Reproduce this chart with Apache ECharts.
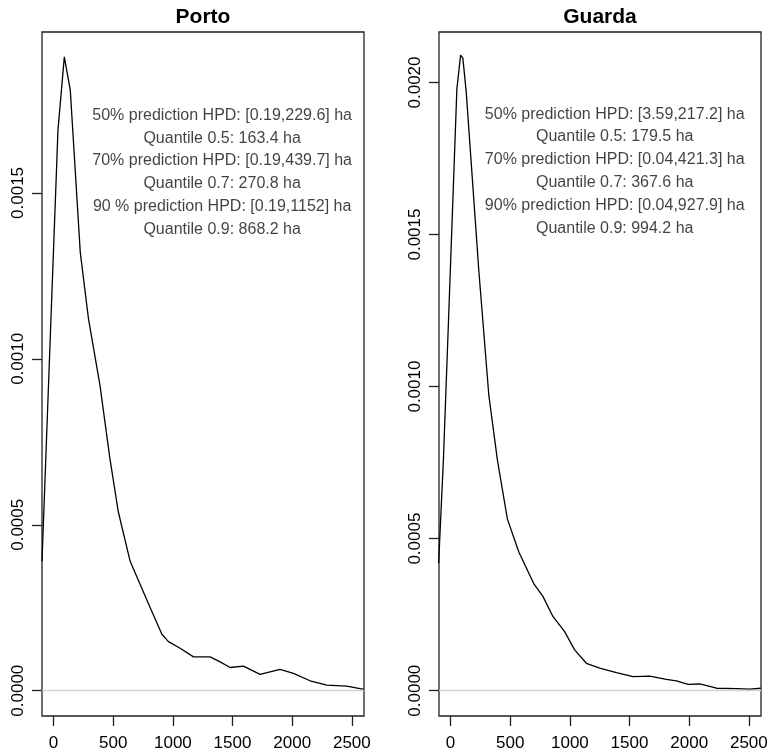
<!DOCTYPE html>
<html>
<head>
<meta charset="utf-8">
<script src="https://cdn.jsdelivr.net/npm/echarts@6/dist/echarts.min.js"></script>
<style>
html, body { margin: 0; padding: 0; background: #fff; }
#chart { width: 772px; height: 752px; }
</style>
</head>
<body>
<div id="chart"></div>
<script>
// density curves (burnt area in ha, density)
var portoX = [-97, -22, 37, 90, 140, 224, 293, 389, 472, 542, 642, 726, 810, 908, 963, 1061, 1173, 1312, 1396, 1480, 1591, 1731, 1898, 2011, 2150, 2290, 2457, 2602];
var portoY = [0.00039, 0.00112, 0.00169, 0.00191, 0.00181, 0.00132, 0.00112, 0.00092, 0.00070, 0.00054, 0.00039, 0.00032, 0.00025, 0.00017, 0.000148, 0.000128, 0.000102, 0.000102, 0.000087, 0.00007, 0.000074, 0.000049, 0.000064, 0.000052, 0.00003, 0.000017, 0.000014, 0.000004];

var guardaX = [-100, -60, -17, 53, 84, 103, 131, 237, 321, 392, 476, 573, 700, 774, 858, 956, 1040, 1138, 1250, 1390, 1529, 1669, 1809, 1893, 1991, 2089, 2229, 2397, 2508, 2600];
var guardaY = [0.00042, 0.00076, 0.00122, 0.00198, 0.00209, 0.00208, 0.00197, 0.00138, 0.00097, 0.00076, 0.000565, 0.000455, 0.00035, 0.00031, 0.000244, 0.000194, 0.000134, 0.00009, 0.000074, 0.000059, 0.000046, 0.000048, 0.000037, 0.000032, 0.000021, 0.000022, 0.000008, 0.000007, 0.000005, 0.000008];

var xTicks = [0, 500, 1000, 1500, 2000, 2500];
var portoYTicks = [0, 0.0005, 0.001, 0.0015];
var guardaYTicks = [0, 0.0005, 0.001, 0.0015, 0.002];

var titles = ["Porto", "Guarda"];
var portoNotes = [
  "50% prediction HPD: [0.19,229.6] ha",
  "Quantile 0.5: 163.4 ha",
  "70% prediction HPD: [0.19,439.7] ha",
  "Quantile 0.7: 270.8 ha",
  "90 % prediction HPD: [0.19,1152] ha",
  "Quantile 0.9: 868.2 ha"
];
var guardaNotes = [
  "50% prediction HPD: [3.59,217.2] ha",
  "Quantile 0.5: 179.5 ha",
  "70% prediction HPD: [0.04,421.3] ha",
  "Quantile 0.7: 367.6 ha",
  "90% prediction HPD: [0.04,927.9] ha",
  "Quantile 0.9: 994.2 ha"
];

var FONT = "Liberation Sans, Arial, sans-serif";

function pairs(xs, ys) {
  return xs.map(function (x, i) { return [x, ys[i]]; });
}

function makeX(idx) {
  return {
    type: "value",
    gridIndex: idx,
    min: -97,
    max: 2602,
    axisLine: { show: false, onZero: false },
    splitLine: { show: false },
    axisTick: { show: true, length: 10, customValues: xTicks, lineStyle: { color: "#222", width: 1.3 } },
    axisLabel: {
      customValues: xTicks,
      margin: 19,
      fontSize: 17,
      color: "#000",
      fontFamily: FONT,
      formatter: function (v) { return String(v); }
    }
  };
}

function makeY(idx, min, max, ticks) {
  return {
    type: "value",
    gridIndex: idx,
    min: min,
    max: max,
    axisLine: { show: false, onZero: false },
    splitLine: { show: false },
    axisTick: { show: true, length: 10, customValues: ticks, lineStyle: { color: "#222", width: 1.3 } },
    axisLabel: {
      customValues: ticks,
      rotate: 90,
      margin: 15,
      fontSize: 17,
      color: "#000",
      fontFamily: FONT,
      formatter: function (v) { return v.toFixed(4); }
    }
  };
}

function curve(idx, xs, ys) {
  return {
    type: "line",
    xAxisIndex: idx,
    yAxisIndex: idx,
    data: pairs(xs, ys),
    showSymbol: false,
    silent: true,
    z: 3,
    lineStyle: { color: "#000", width: 1.3 },
    markLine: {
      silent: true,
      symbol: "none",
      label: { show: false },
      lineStyle: { color: "#d4d4d4", width: 1.3, type: "solid" },
      data: [{ yAxis: 0 }]
    }
  };
}

function notes(idx, x, y, lines) {
  return {
    type: "scatter",
    xAxisIndex: idx,
    yAxisIndex: idx,
    symbolSize: 0,
    silent: true,
    data: [[x, y]],
    label: {
      show: true,
      position: "inside",
      formatter: lines.join("\n"),
      fontSize: 16,
      lineHeight: 22.8,
      color: "#111",
      fontFamily: FONT,
      align: "center"
    }
  };
}

var chart = echarts.init(document.getElementById("chart"));
var option = {
  backgroundColor: "#fff",
  animation: false,
  graphic: [
    { type: "text", x: 203, y: 17, style: { text: titles[0], fontSize: 21, fontWeight: "bold", fontFamily: FONT, fill: "#000", align: "center", verticalAlign: "middle" } },
    { type: "text", x: 600, y: 17, style: { text: titles[1], fontSize: 21, fontWeight: "bold", fontFamily: FONT, fill: "#000", align: "center", verticalAlign: "middle" } }
  ],
  grid: [
    { left: 42, top: 32, width: 322, height: 684, show: true, borderColor: "#222", borderWidth: 1.3, backgroundColor: "transparent" },
    { left: 439, top: 32, width: 322, height: 684, show: true, borderColor: "#222", borderWidth: 1.3, backgroundColor: "transparent" }
  ],
  xAxis: [makeX(0), makeX(1)],
  yAxis: [
    makeY(0, -0.0000762, 0.001985, portoYTicks),
    makeY(1, -0.0000833, 0.002166, guardaYTicks)
  ],
  series: [
    curve(0, portoX, portoY),
    curve(1, guardaX, guardaY),
    notes(0, 1413, 0.001562, portoNotes),
    notes(1, 1376, 0.001708, guardaNotes)
  ]
};
chart.setOption(option);
</script>
</body>
</html>
